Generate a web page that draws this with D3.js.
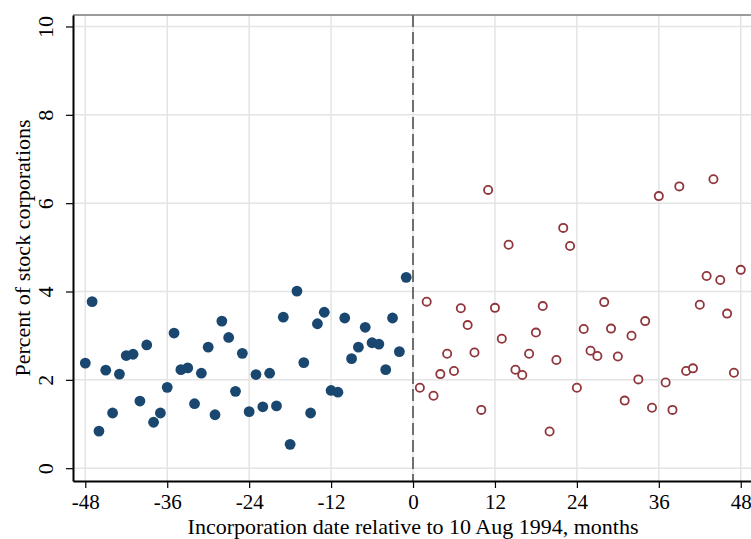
<!DOCTYPE html>
<html>
<head>
<meta charset="utf-8">
<script src="https://cdn.jsdelivr.net/npm/d3@7"></script>
<style>
  body { margin: 0; background: #fff; }
  svg { display: block; }
</style>
</head>
<body>
<div id="chart"></div>
<script>
// months relative to 10 Aug 1994
const monthsBefore = d3.range(-48, 0);
const monthsAfter = d3.range(1, 49);

// percent of stock corporations
const pctBefore = [
  2.38, 3.77, 0.84, 2.22, 1.25, 2.13, 2.55, 2.58, 1.52, 2.79,
  1.04, 1.25, 1.83, 3.06, 2.23, 2.27, 1.46, 2.15, 2.74, 1.21,
  3.33, 2.96, 1.74, 2.60, 1.28, 2.12, 1.39, 2.15, 1.41, 3.42,
  0.54, 4.01, 2.39, 1.25, 3.27, 3.53, 1.76, 1.72, 3.40, 2.48,
  2.74, 3.19, 2.84, 2.81, 2.23, 3.40, 2.64, 4.32
];
const pctAfter = [
  1.82, 3.77, 1.64, 2.13, 2.59, 2.20, 3.62, 3.24, 2.62, 1.32,
  6.30, 3.63, 2.93, 5.06, 2.23, 2.11, 2.59, 3.07, 3.67, 0.83,
  2.45, 5.44, 5.03, 1.82, 3.15, 2.66, 2.54, 3.76, 3.16, 2.53,
  1.53, 3.00, 2.01, 3.33, 1.37, 6.16, 1.94, 1.32, 6.38, 2.20,
  2.26, 3.70, 4.35, 6.54, 4.26, 3.50, 2.16, 4.49
];

const xTicks = [-48, -36, -24, -12, 0, 12, 24, 36, 48];
const yTicks = [0, 2, 4, 6, 8, 10];

const xTitle = "Incorporation date relative to 10 Aug 1994, months";
const yTitle = "Percent of stock corporations";

const sizes = {width: 751, height: 539, margin: {top: 15, right: 0, bottom: 58, left: 73}};
const font = "'Liberation Serif', 'Times New Roman', serif";
const blue = "#1a476f", red = "#90353b";
const hyphenFmt = d => String(d); // plain hyphen-minus, like the original

const svg = d3.select("#chart").append("svg")
  .attr("width", sizes.width)
  .attr("height", sizes.height);

const x = d3.scaleLinear()
  .domain([-49.8, 49.5])
  .range([sizes.margin.left, sizes.width - sizes.margin.right]);

const y = d3.scaleLinear()
  .domain([-0.29, 10.26])
  .range([sizes.height - sizes.margin.bottom, sizes.margin.top]);

const bottom = sizes.height - sizes.margin.bottom;

// grid
svg.append("g")
  .selectAll("line")
  .data(yTicks)
  .join("line")
    .attr("x1", sizes.margin.left).attr("x2", sizes.width)
    .attr("y1", d => y(d)).attr("y2", d => y(d))
    .attr("stroke", "#e4e4e4").attr("stroke-width", 1.5);

svg.append("g")
  .selectAll("line")
  .data(xTicks)
  .join("line")
    .attr("x1", d => x(d)).attr("x2", d => x(d))
    .attr("y1", sizes.margin.top).attr("y2", bottom)
    .attr("stroke", "#e4e4e4").attr("stroke-width", 1.5);

// plot region top border
svg.append("line")
  .attr("x1", sizes.margin.left).attr("x2", sizes.width)
  .attr("y1", sizes.margin.top).attr("y2", sizes.margin.top)
  .attr("stroke", "#7a7a7a").attr("stroke-width", 1.5);

// cutoff line at 0
svg.append("line")
  .attr("x1", x(0)).attr("x2", x(0))
  .attr("y1", sizes.margin.top).attr("y2", bottom)
  .attr("stroke", "#6e6e6e").attr("stroke-width", 2)
  .style("stroke-dasharray", "12 5");

// y axis
const yAxis = svg.append("g")
  .attr("transform", `translate(${sizes.margin.left},0)`)
  .call(d3.axisLeft(y).tickValues(yTicks).tickSize(7).tickSizeOuter(0).tickFormat(hyphenFmt));
yAxis.select(".domain").attr("stroke", "#000").attr("stroke-width", 2);
yAxis.selectAll(".tick line").attr("stroke", "#000").attr("stroke-width", 1.2);
yAxis.selectAll(".tick text")
  .attr("x", null).attr("dy", null)
  .attr("transform", "translate(-20,0) rotate(-90)")
  .style("text-anchor", "middle")
  .style("font-family", font)
  .style("font-size", "22px")
  .style("fill", "#000");

// x axis
const xAxis = svg.append("g")
  .attr("transform", `translate(0,${bottom})`)
  .call(d3.axisBottom(x).tickValues(xTicks).tickSize(7).tickSizeOuter(0).tickFormat(hyphenFmt));
xAxis.select(".domain").attr("stroke", "#000").attr("stroke-width", 2);
xAxis.selectAll(".tick line").attr("stroke", "#000").attr("stroke-width", 1.2);
xAxis.selectAll(".tick text")
  .attr("y", 28).attr("dy", null)
  .style("font-family", font)
  .style("font-size", "21px")
  .style("fill", "#000");

// titles
svg.append("text")
  .text(xTitle)
  .attr("x", x(0))
  .attr("y", 534)
  .style("text-anchor", "middle")
  .style("font-family", font)
  .style("font-size", "22px");

svg.append("text")
  .text(yTitle)
  .attr("transform", `translate(30,${(sizes.margin.top + bottom) / 2}) rotate(-90)`)
  .style("text-anchor", "middle")
  .style("font-family", font)
  .style("font-size", "22px");

// points
svg.append("g")
  .selectAll("circle")
  .data(monthsBefore.map((m, i) => ({m, v: pctBefore[i]})))
  .join("circle")
    .attr("cx", d => x(d.m))
    .attr("cy", d => y(d.v))
    .attr("r", 5.4)
    .attr("fill", blue);

svg.append("g")
  .selectAll("circle")
  .data(monthsAfter.map((m, i) => ({m, v: pctAfter[i]})))
  .join("circle")
    .attr("cx", d => x(d.m))
    .attr("cy", d => y(d.v))
    .attr("r", 4.1)
    .attr("fill", "#fff")
    .attr("stroke", red)
    .attr("stroke-width", 1.8);
</script>
</body>
</html>
